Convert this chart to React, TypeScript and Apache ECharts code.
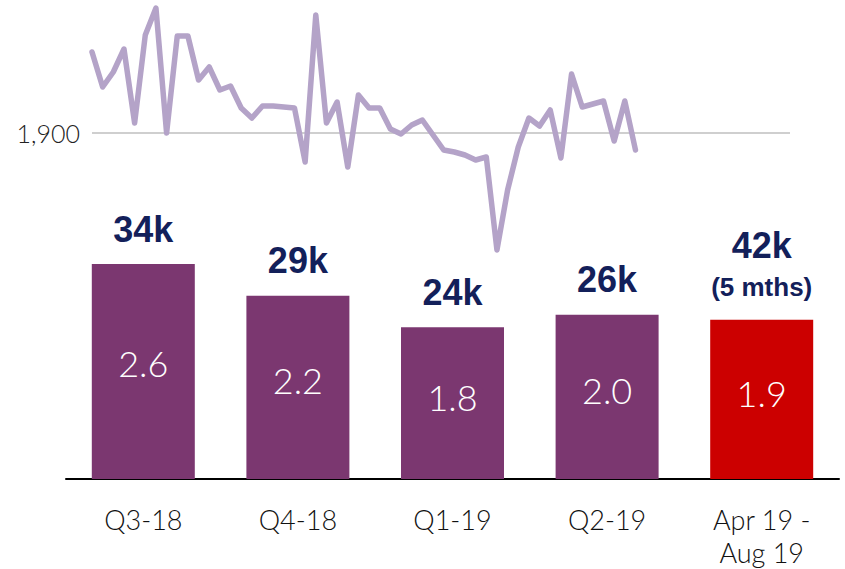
import React, { useEffect, useRef } from "react";
import * as echarts from "echarts";

const categories = ["Q3-18", "Q4-18", "Q1-19", "Q2-19", "Apr 19 -\nAug 19"];
const barValues = [34, 29, 24, 26, 25.2];
const innerLabels = ["2.6", "2.2", "1.8", "2.0", "1.9"];
const topLabels = ["34k", "29k", "24k", "26k", "42k"];
const topSubLabels = ["", "", "", "", "(5 mths)"];
const barColors = ["#7b3770", "#7b3770", "#7b3770", "#7b3770", "#cc0000"];

const lineValues = [
  1981, 1946, 1961, 1984, 1910, 1998, 2025, 1900, 1997, 1997,
  1953, 1966, 1943, 1947, 1925, 1915, 1927, 1927, 1926, 1925,
  1871, 2018, 1910, 1931, 1866, 1938, 1925, 1925, 1904, 1899,
  1908, 1913, 1898, 1883, 1881, 1878, 1873, 1876, 1783, 1843,
  1886, 1915, 1907, 1923, 1875, 1959, 1926, 1929, 1932, 1892,
  1932, 1883,
];
const refValue = 1900;
const refLabel = "1,900";

export default function App() {
  const ref = useRef<HTMLDivElement>(null);
  useEffect(() => {
    document.body.style.margin = "0";
    const chart = echarts.init(ref.current!, null, { renderer: "svg" });
    const lineData = lineValues.map((v, i) => [i, v]);
    chart.setOption({
      animation: false,
      grid: [
        { left: 92, width: 698, top: 33, height: 300 },
        { left: 66, right: 6, top: 163, height: 318 },
      ],
      xAxis: [
        { type: "value", gridIndex: 0, min: 0, max: 65.5, show: false },
        {
          type: "category",
          gridIndex: 1,
          data: categories,
          axisLine: { lineStyle: { color: "#000", width: 2 } },
          axisTick: { show: false },
          axisLabel: {
            color: "#111",
            fontFamily: "Lato",
            fontWeight: 300,
            fontSize: 27,
            margin: 24,
            lineHeight: 33,
            interval: 0,
          },
        },
      ],
      yAxis: [
        {
          type: "value",
          gridIndex: 0,
          min: 1700,
          max: 2000,
          interval: 100,
          splitLine: { show: false },
          axisLine: { show: false },
          axisTick: { show: false },
          axisLabel: {
            formatter: (v: number) => (v === refValue ? refLabel : ""),
            color: "#222",
            fontFamily: "Lato",
            fontWeight: 300,
            fontSize: 25,
            margin: 12,
          },
        },
        { type: "value", gridIndex: 1, min: 0, max: 50, show: false },
      ],
      series: [
        {
          type: "bar",
          xAxisIndex: 1,
          yAxisIndex: 1,
          barWidth: 103,
          data: barValues.map((v, i) => ({
            value: v,
            itemStyle: { color: barColors[i] },
            label: { formatter: innerLabels[i] },
          })),
          label: {
            show: true,
            position: ["50%", "46%"],
            align: "center",
            verticalAlign: "middle",
            color: "#fff",
            fontFamily: "Lato",
            fontWeight: 300,
            fontSize: 36,
          },
        },
        {
          type: "bar",
          xAxisIndex: 1,
          yAxisIndex: 1,
          barWidth: 103,
          barGap: "-100%",
          itemStyle: { color: "transparent" },
          silent: true,
          data: barValues.map((v, i) => ({
            value: v,
            label: {
              formatter: topSubLabels[i]
                ? `{a2|${topLabels[i]}}\n{b|${topSubLabels[i]}}`
                : `{a|${topLabels[i]}}`,
            },
          })),
          label: {
            show: true,
            position: "top",
            distance: 14,
            rich: {
              a: {
                color: "#13205a",
                fontFamily: "Liberation Sans",
                fontWeight: "bold",
                fontSize: 36,
                lineHeight: 42,
              },
              a2: {
                color: "#13205a",
                fontFamily: "Liberation Sans",
                fontWeight: "bold",
                fontSize: 36,
                lineHeight: 44,
              },
              b: {
                color: "#13205a",
                fontFamily: "Liberation Sans",
                fontWeight: "bold",
                fontSize: 26,
                lineHeight: 38,
              },
            },
          },
        },
        {
          type: "line",
          xAxisIndex: 0,
          yAxisIndex: 0,
          data: lineData,
          symbol: "none",
          clip: false,
          z: 5,
          lineStyle: { color: "#b4a3c8", width: 5.5, cap: "round", join: "round" },
          markLine: {
            silent: true,
            symbol: "none",
            label: { show: false },
            lineStyle: { color: "#bfbfbf", width: 1.5, type: "solid" },
            data: [{ yAxis: refValue }],
            z: 1,
          },
        },
      ],
    });
    return () => chart.dispose();
  }, []);
  return <div ref={ref} style={{ width: 845, height: 569 }} />;
}
